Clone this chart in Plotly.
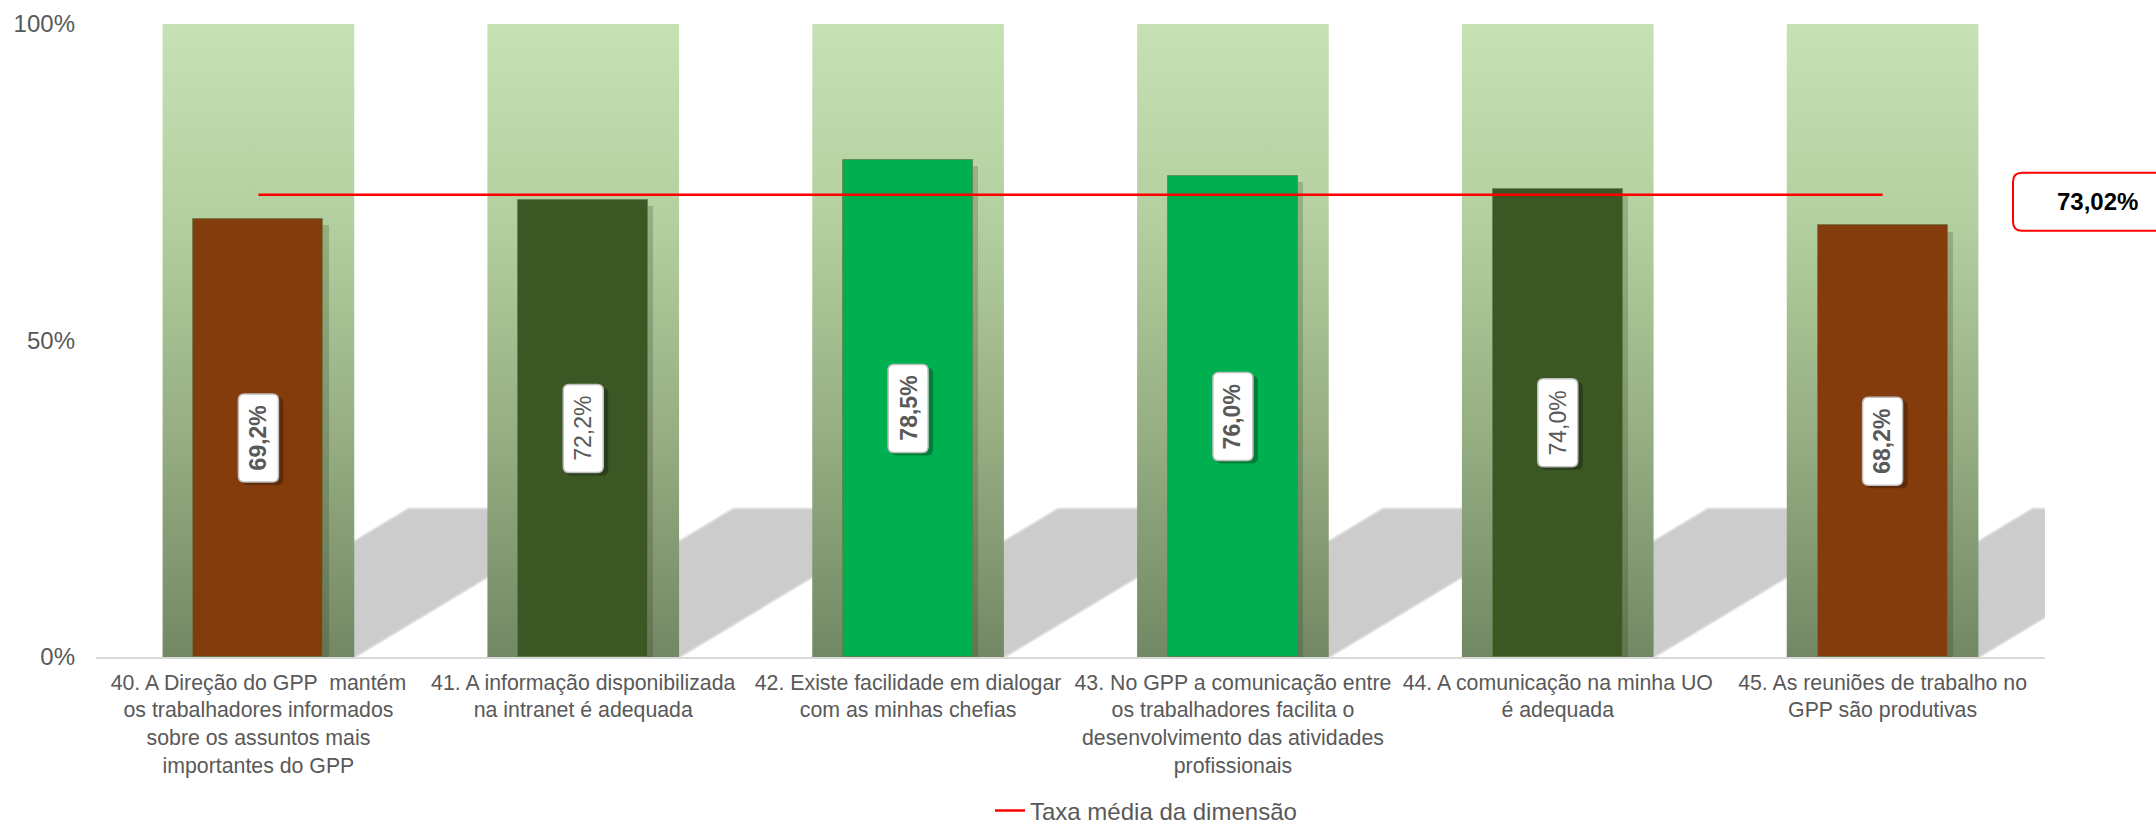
import plotly.graph_objects as go

# ---------------- data ----------------
categories = [
    "40. A Direção do GPP  mantém<br>os trabalhadores informados<br>sobre os assuntos mais<br>importantes do GPP",
    "41. A informação disponibilizada<br>na intranet é adequada",
    "42. Existe facilidade em dialogar<br>com as minhas chefias",
    "43. No GPP a comunicação entre<br>os trabalhadores facilita o<br>desenvolvimento das atividades<br>profissionais",
    "44. A comunicação na minha UO<br>é adequada",
    "45. As reuniões de trabalho no<br>GPP são produtivas",
]
values = [69.2, 72.2, 78.5, 76.0, 74.0, 68.2]
value_labels = ["69,2%", "72,2%", "78,5%", "76,0%", "74,0%", "68,2%"]
background_values = [100, 100, 100, 100, 100, 100]
average = 73.02
average_label = "73,02%"
series_name = "Taxa média da dimensão"
y_tickvals = [0, 50, 100]
y_ticktext = ["0%", "50%", "100%"]

# ---------------- styles ----------------
bar_colors = ["#843C0C", "#3A5724", "#00B050", "#00B050", "#3A5724", "#843C0C"]
label_bold = [True, False, True, True, False, True]
FONT = "Liberation Sans, Arial, sans-serif"
GREY = "#595959"
col_hw = 0.295      # half width of background columns (category units)
bar_w = 0.40        # width of foreground bars
shadow_dx = 0.758   # horizontal skew of the floor shadow
shadow_ratio = 0.234

idx = list(range(len(values)))


def rounded_rect(x0, y0, x1, y1, r):
    return (f"M {x0 + r},{y0} L {x1 - r},{y0} Q {x1},{y0} {x1},{y0 + r} "
            f"L {x1},{y1 - r} Q {x1},{y1} {x1 - r},{y1} L {x0 + r},{y1} "
            f"Q {x0},{y1} {x0},{y1 - r} L {x0},{y0 + r} Q {x0},{y0} {x0 + r},{y0} Z")


# background columns (gradient) and their floor shadows
bx, by, sx, sy = [], [], [], []
for i, v in zip(idx, background_values):
    bx += [i - col_hw, i - col_hw, i + col_hw, i + col_hw, i - col_hw, None]
    by += [0, v, v, 0, 0, None]
    h = v * shadow_ratio
    sx += [i - col_hw, i + col_hw, i + col_hw + shadow_dx, i - col_hw + shadow_dx, i - col_hw, None]
    sy += [0, 0, h, h, 0, None]

fig = go.Figure()

fig.add_trace(go.Scatter(
    x=sx, y=sy, mode="lines", fill="toself", line=dict(width=3, color="rgba(210,210,210,0.6)"),
    fillcolor="#CCCCCC", showlegend=False, hoverinfo="skip",
    xaxis="x", yaxis="y"))

fig.add_trace(go.Scatter(
    x=bx, y=by, mode="lines", fill="toself", line=dict(width=0),
    fillgradient=dict(type="vertical", start=0, stop=100,
                      colorscale=[[0, "rgb(114,136,100)"], [0.35, "rgb(150,174,130)"],
                                  [0.7, "rgb(180,208,160)"], [1, "rgb(198,226,181)"]]),
    showlegend=False, hoverinfo="skip", xaxis="x", yaxis="y"))

# bar shadow
fig.add_trace(go.Bar(
    x=idx, y=values, base=-1.0, width=bar_w, offset=-bar_w / 2 + 0.016,
    marker=dict(color="rgba(30,40,20,0.20)", line=dict(width=0)),
    showlegend=False, hoverinfo="skip", xaxis="x2", yaxis="y2"))

# bars
fig.add_trace(go.Bar(
    x=idx, y=values, width=bar_w,
    marker=dict(color=bar_colors, line=dict(color="rgba(100,125,70,0.7)", width=1)),
    showlegend=False, hoverinfo="skip", xaxis="x2", yaxis="y2"))

# average line
fig.add_trace(go.Scatter(
    x=idx, y=[average] * len(idx), mode="lines", name=series_name,
    line=dict(color="#FF0000", width=2.5), hoverinfo="skip",
    xaxis="x2", yaxis="y2"))

shapes = []
annotations = []
for i, v, t, b in zip(idx, values, value_labels, label_bold):
    # drop shadow + rounded white box for the data label
    shapes.append(dict(
        type="path", xref="x", yref="y", xsizemode="pixel", ysizemode="pixel",
        xanchor=i, yanchor=v / 2, path=rounded_rect(-17, -47, 25, 41, 6),
        fillcolor="rgba(0,0,0,0.28)", line=dict(width=0), layer="above"))
    shapes.append(dict(
        type="path", xref="x", yref="y", xsizemode="pixel", ysizemode="pixel",
        xanchor=i, yanchor=v / 2, path=rounded_rect(-20, -44, 20, 44, 6),
        fillcolor="white", line=dict(color="#BFBFBF", width=1.5), layer="above"))
    annotations.append(dict(
        x=i, y=v / 2, xref="x", yref="y", text=f"<b>{t}</b>" if b else t,
        showarrow=False, textangle=-90,
        font=dict(family=FONT, size=23, color=GREY)))

# rounded red box for the average value
shapes.append(dict(
    type="path", xref="paper", yref="y", xsizemode="pixel", ysizemode="pixel",
    xanchor=(2013 - 96) / 1949, yanchor=average,
    path=rounded_rect(0, -36, 175, 22, 9),
    fillcolor="white", line=dict(color="#FF0000", width=2), layer="above"))
annotations.append(dict(
    x=(2097 - 96) / 1949, xref="paper", xanchor="center",
    y=average, yref="y", yanchor="middle", yshift=-7,
    text=f"<b>{average_label}</b>", showarrow=False,
    font=dict(family=FONT, size=24, color="black")))

fig.update_layout(
    width=2156, height=826,
    margin=dict(l=96, r=111, t=24, b=169, autoexpand=False),
    paper_bgcolor="white", plot_bgcolor="white",
    font=dict(family=FONT, size=23, color=GREY),
    barmode="overlay", bargap=0,
    xaxis=dict(range=[-0.5, 5.5], tickvals=idx, ticktext=categories,
               tickfont=dict(size=21.3, color=GREY), showgrid=False, zeroline=False,
               showline=True, linecolor="#D9D9D9", linewidth=2, ticks="",
               ticklabelstandoff=5, fixedrange=True),
    yaxis=dict(range=[0, 100], tickvals=y_tickvals, ticktext=y_ticktext,
               tickfont=dict(size=24, color=GREY), showgrid=False, zeroline=False,
               showline=False, ticks="", ticklabelstandoff=20, fixedrange=True),
    xaxis2=dict(range=[-0.5, 5.5], overlaying="x", anchor="y2", visible=False),
    yaxis2=dict(range=[0, 100], overlaying="y", anchor="x2", visible=False),
    showlegend=True,
    legend=dict(orientation="h", x=(990 - 96) / 1949, xanchor="left",
                y=-0.243, yanchor="middle", font=dict(size=24, color=GREY),
                bgcolor="rgba(0,0,0,0)", borderwidth=0),
    shapes=shapes,
    annotations=annotations,
)

fig.write_html("out.html")
